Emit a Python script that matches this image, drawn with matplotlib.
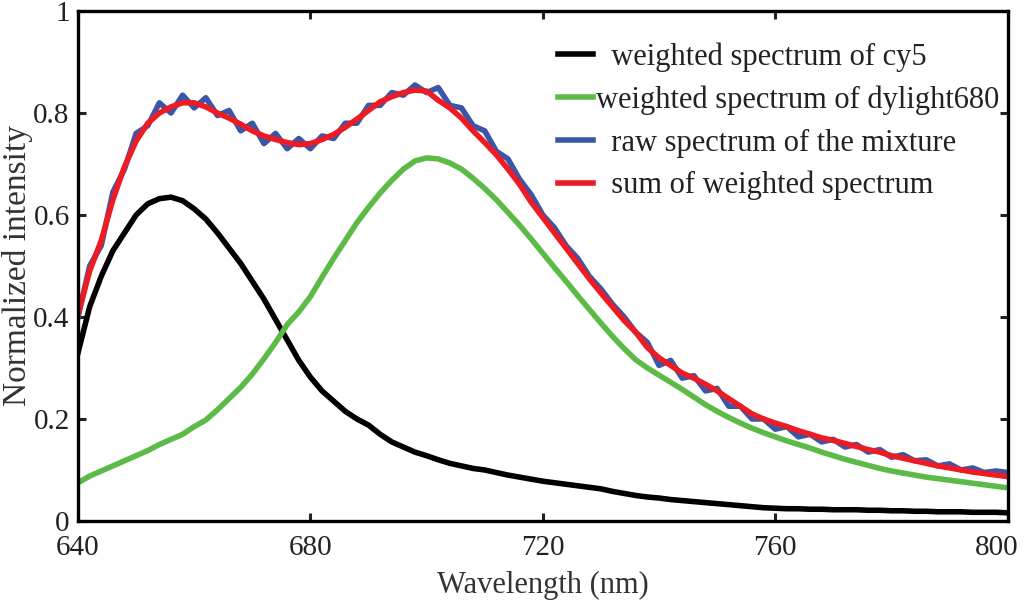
import numpy as np
import matplotlib
matplotlib.use("Agg")
import matplotlib.pyplot as plt
import matplotlib.transforms as mtransforms

plt.rcParams['font.family'] = ['Liberation Serif', 'DejaVu Serif']

# wavelength grid (nm), one value every 2 nm
wavelength = np.arange(640, 801, 2)

cy5 = [0.33, 0.42, 0.48, 0.53, 0.565, 0.60, 0.622, 0.632, 0.635, 0.628,
       0.612, 0.592, 0.565, 0.535, 0.505, 0.47, 0.435, 0.395, 0.355, 0.315,
       0.282, 0.255, 0.235, 0.215, 0.200, 0.188, 0.170, 0.155, 0.145, 0.135,
       0.128, 0.120, 0.113, 0.108, 0.103, 0.100, 0.095, 0.090, 0.086, 0.082,
       0.078, 0.075, 0.072, 0.069, 0.066, 0.063, 0.058, 0.054, 0.050, 0.047,
       0.045, 0.042, 0.040, 0.038, 0.036, 0.034, 0.032, 0.030, 0.028, 0.026,
       0.025, 0.024, 0.024, 0.023, 0.023, 0.022, 0.022, 0.022, 0.021, 0.021,
       0.020, 0.020, 0.019, 0.019, 0.018, 0.018, 0.018, 0.017, 0.017, 0.017,
       0.016]

dylight680 = [0.075, 0.088, 0.098, 0.108, 0.118, 0.128, 0.138, 0.150, 0.160, 0.170,
              0.185, 0.198, 0.218, 0.240, 0.262, 0.288, 0.318, 0.35, 0.385, 0.41,
              0.44, 0.478, 0.515, 0.55, 0.585, 0.615, 0.643, 0.668, 0.690, 0.706,
              0.712, 0.710, 0.702, 0.690, 0.672, 0.652, 0.630, 0.605, 0.580, 0.553,
              0.525, 0.497, 0.470, 0.442, 0.415, 0.388, 0.362, 0.338, 0.316, 0.300,
              0.286, 0.272, 0.258, 0.243, 0.228, 0.215, 0.203, 0.192, 0.182, 0.173,
              0.165, 0.157, 0.150, 0.143, 0.135, 0.128, 0.121, 0.115, 0.109, 0.103,
              0.098, 0.094, 0.090, 0.086, 0.083, 0.080, 0.077, 0.074, 0.071, 0.068,
              0.065]

raw_mixture = [0.40, 0.50, 0.54, 0.645, 0.69, 0.76, 0.775, 0.82, 0.80, 0.835,
               0.81, 0.83, 0.795, 0.805, 0.765, 0.78, 0.74, 0.76, 0.73, 0.75,
               0.73, 0.755, 0.75, 0.78, 0.78, 0.815, 0.815, 0.84, 0.835, 0.855,
               0.84, 0.85, 0.815, 0.81, 0.775, 0.765, 0.725, 0.71, 0.67, 0.64,
               0.60, 0.575, 0.54, 0.515, 0.48, 0.455, 0.425, 0.40, 0.37, 0.35,
               0.305, 0.315, 0.28, 0.285, 0.255, 0.26, 0.225, 0.225, 0.20, 0.20,
               0.18, 0.185, 0.165, 0.17, 0.155, 0.16, 0.145, 0.15, 0.135, 0.14,
               0.125, 0.13, 0.118, 0.12, 0.108, 0.112, 0.10, 0.104, 0.095, 0.098,
               0.095]

weighted_sum = [0.405, 0.49, 0.55, 0.63, 0.695, 0.745, 0.78, 0.80, 0.812, 0.82,
                0.82, 0.812, 0.80, 0.79, 0.778, 0.765, 0.755, 0.748, 0.742, 0.738,
                0.74, 0.748, 0.758, 0.772, 0.788, 0.805, 0.822, 0.832, 0.84, 0.845,
                0.843, 0.825, 0.81, 0.79, 0.765, 0.742, 0.718, 0.69, 0.66, 0.625,
                0.595, 0.565, 0.535, 0.505, 0.475, 0.447, 0.42, 0.393, 0.37, 0.34,
                0.32, 0.305, 0.29, 0.28, 0.268, 0.255, 0.24, 0.225, 0.21, 0.20,
                0.192, 0.185, 0.177, 0.17, 0.163, 0.158, 0.152, 0.146, 0.14, 0.135,
                0.128, 0.123, 0.118, 0.113, 0.108, 0.104, 0.10, 0.096, 0.093, 0.09,
                0.087]

labels = ['  weighted spectrum of cy5', 'weighted spectrum of dylight680',
          '  raw spectrum of the mixture', '  sum of weighted spectrum']

fig = plt.figure(figsize=(10.24, 6.02), dpi=100)
ax = fig.add_axes([0.0762, 0.1346, 0.9078, 0.8471])

lw = 4.0
ax.plot(wavelength, cy5, color='black', lw=lw, label=labels[0])
ax.plot(wavelength, dylight680, color='#5cba47', lw=lw, label=labels[1])
ax.plot(wavelength, raw_mixture, color='#3b56a6', lw=lw, label=labels[2])
ax.plot(wavelength, weighted_sum, color='#ed1c24', lw=lw, label=labels[3])

ax.set_xlim(640, 800)
ax.set_ylim(0, 1)
ax.set_xticks([640, 680, 720, 760, 800])
ax.set_yticks([0, 0.2, 0.4, 0.6, 0.8, 1])
ax.set_yticklabels(['0', '0.2', '0.4', '0.6', '0.8', '1'])
ax.tick_params(direction='in', length=6, width=2.2, labelsize=21, pad=6,
               top=True, right=True, colors='#222222')
ax.tick_params(axis='x', pad=10)
for s in ax.spines.values():
    s.set_linewidth(2.4)

# last x tick label sits a little left of its tick, as in the original
fig.canvas.draw()
shift = mtransforms.ScaledTranslation(-11 / 100, 0, fig.dpi_scale_trans)
lab = ax.get_xticklabels()[-1]
lab.set_transform(lab.get_transform() + shift)

ax.set_xlabel('Wavelength (nm)', fontsize=22, color='#333333', labelpad=7)
ax.set_ylabel('Normalized intensity', fontsize=24, color='#333333', labelpad=0)

leg = ax.legend(loc='upper left', bbox_to_anchor=(0.503, 0.962), frameon=False,
                fontsize=22, handlelength=1.15, handletextpad=0.1,
                labelspacing=0.44, borderaxespad=0)
for t in leg.get_texts():
    t.set_color('#222222')

fig.savefig('out.png', dpi=100)
